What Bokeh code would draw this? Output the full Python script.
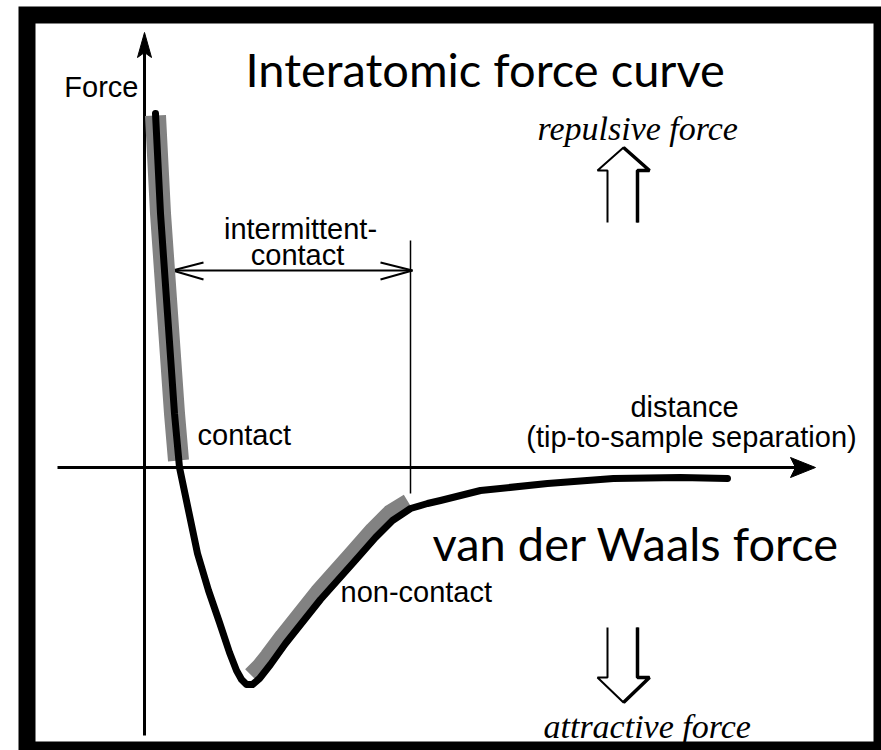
from bokeh.plotting import figure
from bokeh.models import Range1d
from bokeh.core.properties import value
from bokeh.embed import file_html
from bokeh.resources import INLINE

# ---- data: interatomic force curve (distance, force) in diagram units ----
distance = [0.11, 0.16, 0.23, 0.30, 0.35, 0.44, 0.53, 0.64, 0.75, 0.85, 0.92,
            0.97, 1.02, 1.08, 1.15, 1.26, 1.41, 1.76, 2.09, 2.31, 2.48, 2.66,
            2.83, 2.96, 3.36, 4.03, 4.69, 5.36, 5.83]
force = [3.54, 2.54, 1.54, 0.54, 0.00, -0.43, -0.86, -1.23, -1.55, -1.85, -2.03,
         -2.12, -2.17, -2.17, -2.11, -1.97, -1.76, -1.32, -0.95, -0.70, -0.53, -0.41,
         -0.36, -0.33, -0.23, -0.16, -0.11, -0.10, -0.11]

# contact regime band
contact_distance = [0.11, 0.16, 0.23, 0.30, 0.34]
contact_force = [3.52, 2.54, 1.54, 0.54, 0.07]

# non-contact regime band
noncontact_distance = [1.07, 1.16, 1.24, 1.39, 1.74, 2.07, 2.29, 2.46, 2.64]
noncontact_force = [-2.08, -1.99, -1.89, -1.69, -1.25, -0.88, -0.63, -0.46, -0.35]

# intermittent-contact boundary distance
intermittent_edge = 2.66

labels_sans = ["Force", "intermittent-", "contact", "contact", "distance",
               "(tip-to-sample separation)", "non-contact"]
title_text = "Interatomic force curve"
vdw_text = "van der Waals force"
repulsive_text = "repulsive force"
attractive_text = "attractive force"

W, H = 881, 750
p = figure(width=W, height=H, output_backend="svg", toolbar_location=None,
           x_axis_type=None, y_axis_type=None,
           x_range=Range1d(-1.44, 7.37), y_range=Range1d(-2.83, 4.67),
           min_border=0, min_border_left=0, min_border_right=0,
           min_border_top=0, min_border_bottom=0)
p.grid.visible = False
p.outline_line_color = None
p.background_fill_color = "white"
p.border_fill_color = "white"

BLACK = "#000000"
GRAY = "#828282"

# frame
p.quad(left=-1.26, right=8.0, bottom=-3.5, top=4.61, fill_color=BLACK, line_color=None)
p.quad(left=-1.09, right=7.29, bottom=-2.74, top=4.44, fill_color="white", line_color=None)

# axes
p.line([0.0, 0.0], [-2.68, 4.17], line_color=BLACK, line_width=3)
p.patch([0.0, 0.07, 0.0, -0.07], [4.35, 4.10, 4.15, 4.10], fill_color=BLACK, line_color=BLACK, line_width=1)
p.line([-0.87, 6.56], [0.0, 0.0], line_color=BLACK, line_width=3)
p.patch([6.71, 6.46, 6.51, 6.46], [0.0, 0.10, 0.0, -0.10], fill_color=BLACK, line_color=BLACK, line_width=1)

# intermittent-contact boundary and double arrow
p.line([intermittent_edge, intermittent_edge], [-0.26, 2.27], line_color=BLACK, line_width=1.5)
p.line([0.28, 2.68], [1.97, 1.97], line_color=BLACK, line_width=2)
p.multi_line([[0.59, 0.28, 0.59], [2.36, 2.68, 2.36]],
             [[2.05, 1.97, 1.88], [2.05, 1.97, 1.88]],
             line_color=BLACK, line_width=2)

# gray regime bands
p.line(contact_distance, contact_force, line_color=GRAY, line_width=21, line_cap="butt")
p.line(noncontact_distance, noncontact_force, line_color=GRAY, line_width=18, line_cap="butt",
       line_join="round")

# force curve
p.line(distance, force, line_color=BLACK, line_width=7, line_join="round", line_cap="round")

# hollow arrows (repulsive up, attractive down)
up_x = [4.63, 4.63, 4.53, 4.79, 5.05, 4.93, 4.93]
up_y = [2.45, 2.97, 2.97, 3.20, 2.97, 2.97, 2.45]
p.line(up_x, up_y, line_color=BLACK, line_width=2)
p.line(up_x[3:], up_y[3:], line_color=BLACK, line_width=3.5)
dn_x = [4.63, 4.63, 4.53, 4.79, 5.05, 4.93, 4.93]
dn_y = [-1.60, -2.10, -2.10, -2.35, -2.10, -2.10, -1.60]
p.line(dn_x, dn_y, line_color=BLACK, line_width=2)
p.line(dn_x[3:], dn_y[3:], line_color=BLACK, line_width=3.5)

sans = value("Liberation Sans")
fs = value("29px")
p.text(x=[-0.06], y=[3.81], text=[labels_sans[0]], text_font=sans, text_font_size=fs,
       text_align="right", text_baseline="alphabetic", text_color=BLACK)
p.text(x=[1.56, 1.53], y=[2.39, 2.13], text=[labels_sans[1], labels_sans[2]], text_font=sans,
       text_font_size=fs, text_align="center", text_baseline="alphabetic", text_color=BLACK)
p.text(x=[0.53], y=[0.33], text=[labels_sans[3]], text_font=sans, text_font_size=fs,
       text_align="left", text_baseline="alphabetic", text_color=BLACK)
p.text(x=[5.40, 5.47], y=[0.61, 0.31], text=[labels_sans[4], labels_sans[5]], text_font=sans,
       text_font_size=fs, text_align="center", text_baseline="alphabetic", text_color=BLACK)
p.text(x=[1.96], y=[-1.24], text=[labels_sans[6]], text_font=sans, text_font_size=fs,
       text_align="left", text_baseline="alphabetic", text_color=BLACK)

big = value("Lato")
p.text(x=[1.01], y=[3.99], text=[title_text], text_font=big, text_font_size=value("47px"),
       text_align="left", text_baseline="alphabetic", text_color=BLACK)
p.text(x=[2.88], y=[-0.75], text=[vdw_text], text_font=big, text_font_size=value("47px"),
       text_align="left", text_baseline="alphabetic", text_color=BLACK)

serif = value("Liberation Serif")
p.text(x=[3.93], y=[3.39], text=[repulsive_text], text_font=serif, text_font_size=value("34px"),
       text_font_style="italic", text_align="left", text_baseline="alphabetic", text_color=BLACK)
p.text(x=[3.99], y=[-2.59], text=[attractive_text], text_font=serif, text_font_size=value("34px"),
       text_font_style="italic", text_align="left", text_baseline="alphabetic", text_color=BLACK)

open("out.html", "w").write(file_html(p, INLINE))
